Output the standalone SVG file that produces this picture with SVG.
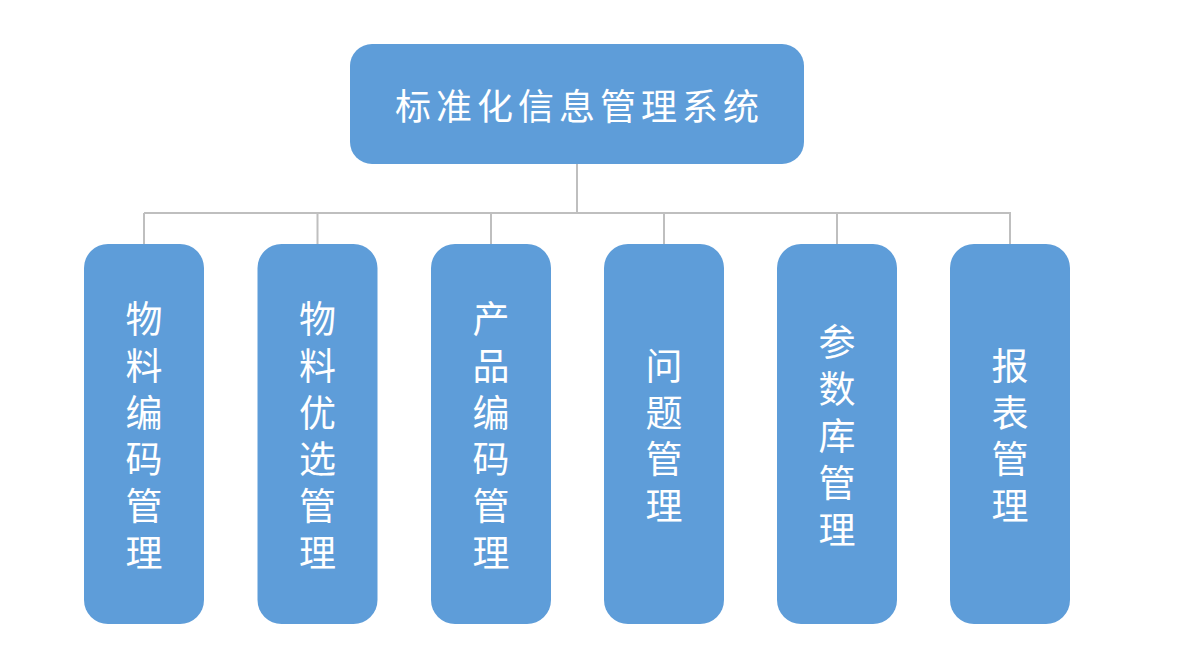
<svg xmlns="http://www.w3.org/2000/svg" width="1177" height="657" viewBox="0 0 1177 657">
<style>
.box{fill:#5E9DD9;}
.t{fill:#ffffff;font-family:"Noto Sans CJK SC","Noto Sans",sans-serif;text-anchor:middle;dominant-baseline:central;}
.main{font-size:36px;letter-spacing:5px;}
.sub{font-size:37px;}
.ln{stroke:#BFBFBF;stroke-width:2;fill:none;}
</style>
<rect width="1177" height="657" fill="#ffffff"/>
<g id="connectors">
<path class="ln" d="M577 164 V213 M144 213 H1011 M144 213 V244 M317.5 213 V244 M491 213 V244 M664 213 V244 M837 213 V244 M1010 213 V244"/>
</g>
<g id="root">
<rect class="box" x="350" y="44" width="454" height="120" rx="22"/>
<text class="t main" x="579.5" y="104">标准化信息管理系统</text>
</g>
<g id="n1">
<rect class="box" x="84" y="244" width="120" height="380" rx="24"/>
<text class="t sub"><tspan x="144" y="317">物</tspan><tspan x="144" y="363.8">料</tspan><tspan x="144" y="410.6">编</tspan><tspan x="144" y="457.4">码</tspan><tspan x="144" y="504.2">管</tspan><tspan x="144" y="551">理</tspan></text>
</g>
<g id="n2">
<rect class="box" x="257.5" y="244" width="120" height="380" rx="24"/>
<text class="t sub"><tspan x="317.5" y="317">物</tspan><tspan x="317.5" y="363.8">料</tspan><tspan x="317.5" y="410.6">优</tspan><tspan x="317.5" y="457.4">选</tspan><tspan x="317.5" y="504.2">管</tspan><tspan x="317.5" y="551">理</tspan></text>
</g>
<g id="n3">
<rect class="box" x="431" y="244" width="120" height="380" rx="24"/>
<text class="t sub"><tspan x="491" y="317">产</tspan><tspan x="491" y="363.8">品</tspan><tspan x="491" y="410.6">编</tspan><tspan x="491" y="457.4">码</tspan><tspan x="491" y="504.2">管</tspan><tspan x="491" y="551">理</tspan></text>
</g>
<g id="n4">
<rect class="box" x="604" y="244" width="120" height="380" rx="24"/>
<text class="t sub"><tspan x="664" y="363.8">问</tspan><tspan x="664" y="410.6">题</tspan><tspan x="664" y="457.4">管</tspan><tspan x="664" y="504.2">理</tspan></text>
</g>
<g id="n5">
<rect class="box" x="777" y="244" width="120" height="380" rx="24"/>
<text class="t sub"><tspan x="837" y="340.4">参</tspan><tspan x="837" y="387.2">数</tspan><tspan x="837" y="434">库</tspan><tspan x="837" y="480.8">管</tspan><tspan x="837" y="527.6">理</tspan></text>
</g>
<g id="n6">
<rect class="box" x="950" y="244" width="120" height="380" rx="24"/>
<text class="t sub"><tspan x="1010" y="363.8">报</tspan><tspan x="1010" y="410.6">表</tspan><tspan x="1010" y="457.4">管</tspan><tspan x="1010" y="504.2">理</tspan></text>
</g>
</svg>
